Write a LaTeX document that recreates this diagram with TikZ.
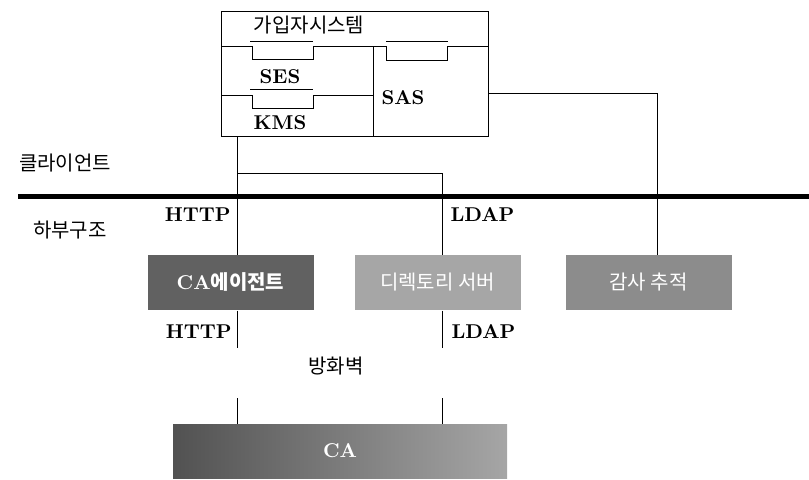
\documentclass[tikz,border=0pt]{standalone}
\usepackage{fontspec}
\newfontfamily\kr{Noto Sans CJK KR}
\usetikzlibrary{positioning}
\begin{document}
\begin{tikzpicture}[x=0.5pt, y=-0.5pt, line width=0.5pt,
    every node/.style={inner sep=0pt, font=\fontsize{10}{12}\selectfont},
    unit/.style={minimum width=83pt, minimum height=27.5pt, text=white},
    proto/.style={font=\fontsize{10}{12}\selectfont\bfseries}]
    \useasboundingbox (0,0) rectangle (809,479);
    % Gerät des Teilnehmers
    \draw (221,11) rectangle (488,136);
    \draw (221,46) -- (252,46) -- (252,59) -- (313,59) -- (313,46) -- (386,46) -- (386,60)
          -- (447,60) -- (447,46) -- (488,46);
    \draw (250,41) -- (313,41);
    \draw (386,41) -- (448,41);
    \draw (373,46) -- (373,136);
    \draw (221,95) -- (252,95) -- (252,108) -- (313,108) -- (313,95) -- (373,95);
    \draw (250,89) -- (313,89);
    \node (sys) at (309,25) {\kr 가입자시스템};
    \node[proto] (ses) at (280,77) {SES};
    \node[proto] (kms) at (280,123) {KMS};
    \node[proto] (sas) at (403,98) {SAS};
    \coordinate (kmsout) at (237,136);
    \coordinate (sasout) at (488,93);
    % Trennlinie
    \draw[line width=2.5pt] (18,196) -- (809,196);
    \node (client) at (65,163) {\kr 클라이언트};
    \node (infra) at (70,230) {\kr 하부구조};
    % Server
    \node[unit, fill=black!62] (agent) at (230.5,282.5) {\bfseries CA\kr 에이전트};
    \node[unit, fill=black!35] (dir) at (437.5,282.5) {\kr 디렉토리 서버};
    \node[unit, fill=black!45] (audit) at (648.5,282.5) {\kr 감사 추적};
    \node[minimum width=167pt, minimum height=27pt, left color=black!68, right color=black!35,
          text=white, font=\fontsize{10}{12}\selectfont\bfseries] (ca) at (340,451) {CA};
    % Verbindungen
    \draw (kmsout) -- (kmsout |- agent.north);
    \coordinate (branch) at (237,173);
    \draw (branch) -- (442,173) -- (442,173 |- dir.north);
    \draw (sasout) -- (657,93) -- (657,93 |- audit.north);
    \coordinate (fw1) at (237,348);
    \coordinate (fw2) at (237,398);
    \coordinate (fw3) at (442,348);
    \coordinate (fw4) at (442,398);
    \draw (fw1 |- agent.south) -- (fw1);
    \draw (fw2) -- (fw2 |- ca.north);
    \draw (fw3 |- dir.south) -- (fw3);
    \draw (fw4) -- (fw4 |- ca.north);
    \node[proto, anchor=east] (http1) at (231,215) {HTTP};
    \node[proto, anchor=west] (ldap1) at (450,215) {LDAP};
    \node[proto, anchor=east] (http2) at (232,332) {HTTP};
    \node[proto, anchor=west] (ldap2) at (451,332) {LDAP};
    \node (fw) at (336,366) {\kr 방화벽};
\end{tikzpicture}
\end{document}
